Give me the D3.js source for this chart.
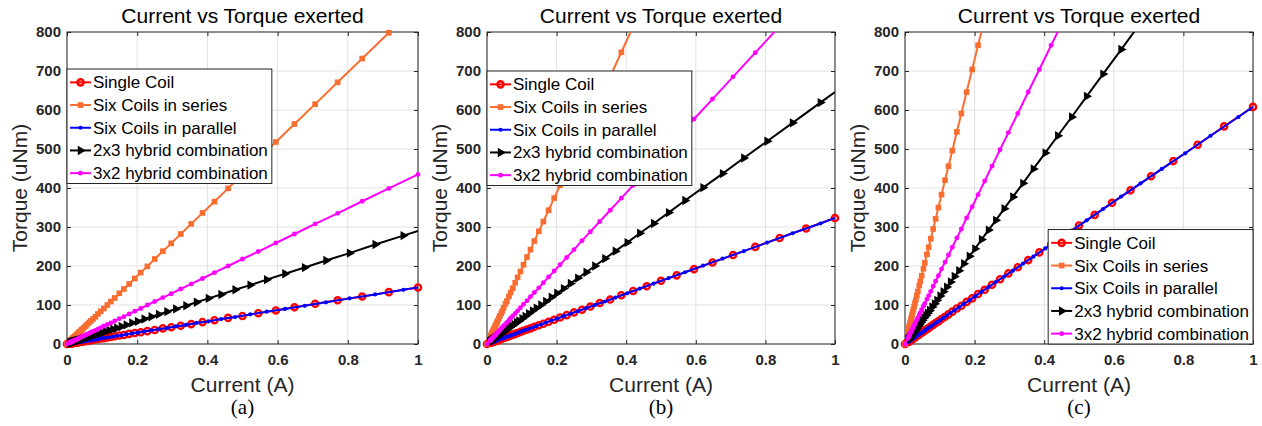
<!DOCTYPE html>
<html>
<head>
<meta charset="utf-8">
<script src="https://cdn.jsdelivr.net/npm/d3@7"></script>
<style>
  body { margin: 0; background: #fff; }
  svg { display: block; }
  text { font-family: "Liberation Sans", Arial, sans-serif; }
  .tick text { font-weight: bold; font-size: 15px; fill: #262626; font-family: "Liberation Sans", Arial, sans-serif; }
  .axis-title { font-size: 21px; fill: #262626; }
  .chart-title { font-size: 21px; fill: #000; }
  .caption { font-family: "Liberation Serif", "Times New Roman", serif; font-size: 21px; fill: #000; }
  .legend-text { font-size: 17px; fill: #000; }
</style>
</head>
<body>
<svg id="chart" width="1262" height="426"></svg>
<script>
// sample currents (A) - markers are log spaced, denser toward 0
const currentMain = [0, 0.0078, 0.0085, 0.0093, 0.0101, 0.0110, 0.0120, 0.0131, 0.0143, 0.0156, 0.0171,
  0.0186, 0.0203, 0.0221, 0.0241, 0.0263, 0.0287,
  0.031, 0.034, 0.037, 0.041, 0.044, 0.048, 0.053, 0.057, 0.063, 0.068,
  0.074, 0.081, 0.088, 0.096, 0.105, 0.115, 0.125, 0.136, 0.149, 0.162,
  0.177, 0.193, 0.210, 0.229, 0.250, 0.273, 0.297, 0.324, 0.354, 0.386,
  0.420, 0.459, 0.500, 0.545, 0.595, 0.648, 0.707, 0.771, 0.841, 0.917, 1];
const currentOdd = [0, 0.0082, 0.0089, 0.0097, 0.0106, 0.0115, 0.0126, 0.0137, 0.0150, 0.0163, 0.0178,
  0.0194, 0.0212, 0.0231, 0.0252, 0.0274, 0.0299,
  0.033, 0.036, 0.039, 0.042, 0.046, 0.050, 0.055, 0.060, 0.065, 0.071,
  0.078, 0.085, 0.092, 0.101, 0.110, 0.120, 0.131, 0.142, 0.155, 0.169,
  0.185, 0.201, 0.220, 0.240, 0.261, 0.285, 0.310, 0.339, 0.369, 0.403,
  0.439, 0.479, 0.522, 0.569, 0.621, 0.677, 0.738, 0.805, 0.878, 0.958, 1];

const seriesNames = ['Single Coil', 'Six Coils in series', 'Six Coils in parallel',
  '2x3 hybrid combination', '3x2 hybrid combination'];

const xTicks = [0, 0.2, 0.4, 0.6, 0.8, 1];
const yTicks = [0, 100, 200, 300, 400, 500, 600, 700, 800];

// torque (uNm), panel (a)
const singleA = [0, 1, 1, 1, 1, 2, 2, 2, 2, 2, 2, 3, 3, 3, 3, 4, 4,
  4, 5, 5, 6, 6, 7, 8, 8, 9, 10, 11, 12, 13, 14, 15, 17, 18, 20, 22, 23,
  26, 28, 30, 33, 36, 40, 43, 47, 51, 56, 61, 67, 72, 79, 86, 94, 103, 112, 122, 133, 145];
const seriesA = [0, 7, 7, 8, 9, 10, 10, 11, 12, 14, 15, 16, 18, 19, 21, 23, 25,
  27, 30, 32, 36, 38, 42, 46, 50, 55, 59, 64, 70, 77, 84, 91, 100, 109, 118, 130, 141,
  154, 168, 183, 199, 218, 238, 258, 282, 308, 336, 365, 399, 435, 474, 518, 564, 615, 671, 732, 798, 870];
const parallelA = [0, 1, 1, 1, 2, 2, 2, 2, 2, 2, 3, 3, 3, 3, 4, 4, 4,
  5, 5, 6, 6, 7, 7, 8, 9, 9, 10, 11, 12, 13, 15, 16, 17, 19, 21, 22, 25,
  27, 29, 32, 35, 38, 41, 45, 49, 54, 58, 64, 69, 76, 83, 90, 98, 107, 117, 127, 139, 145];
const hybrid23A = [0, 2, 3, 3, 3, 3, 4, 4, 4, 5, 5, 6, 6, 7, 7, 8, 9,
  10, 10, 11, 12, 13, 15, 16, 17, 19, 21, 23, 25, 27, 29, 32, 35, 38, 41, 45, 49,
  54, 58, 64, 70, 76, 83, 90, 98, 107, 117, 127, 139, 151, 165, 180, 196, 214, 233, 255, 278, 290];
const hybrid32A = [0, 3, 4, 4, 4, 5, 5, 6, 6, 7, 7, 8, 9, 10, 10, 11, 12,
  13, 15, 16, 18, 19, 21, 23, 25, 27, 30, 32, 35, 38, 42, 46, 50, 54, 59, 65, 70,
  77, 84, 91, 100, 109, 119, 129, 141, 154, 168, 183, 200, 218, 237, 259, 282, 308, 335, 366, 399, 435];

// panel (b)
const singleB = [0, 3, 3, 3, 3, 4, 4, 4, 5, 5, 6, 6, 7, 7, 8, 8, 9,
  10, 11, 12, 13, 14, 16, 17, 18, 20, 22, 24, 26, 28, 31, 34, 37, 40, 44, 48, 52,
  57, 62, 68, 74, 81, 88, 96, 105, 114, 125, 136, 148, 162, 176, 192, 209, 228, 249, 272, 296, 323];
const seriesB = [0, 15, 16, 18, 20, 21, 23, 25, 28, 30, 33, 36, 39, 43, 47, 51, 56,
  60, 66, 72, 79, 85, 93, 103, 110, 122, 132, 143, 157, 171, 186, 203, 223, 242, 264, 289, 314,
  343, 374, 407, 444, 485, 529, 576, 628, 686, 748, 814];
const parallelB = [0, 3, 3, 3, 3, 4, 4, 4, 5, 5, 6, 6, 7, 7, 8, 9, 10,
  11, 12, 13, 14, 15, 16, 18, 19, 21, 23, 25, 27, 30, 33, 36, 39, 42, 46, 50, 55,
  60, 65, 71, 78, 84, 92, 100, 109, 119, 130, 142, 155, 169, 184, 201, 219, 238, 260, 284, 309, 323];
const hybrid23B = [0, 5, 6, 6, 7, 7, 8, 9, 10, 11, 11, 13, 14, 15, 16, 18, 19,
  21, 23, 25, 27, 30, 32, 36, 39, 42, 46, 50, 55, 59, 65, 71, 78, 85, 92, 100, 109,
  120, 130, 142, 155, 169, 184, 200, 219, 238, 260, 284, 309, 337, 368, 401, 437, 477, 520, 567, 619, 646];
const hybrid32B = [0, 8, 8, 9, 10, 11, 12, 13, 14, 15, 17, 18, 20, 21, 23, 25, 28,
  30, 33, 36, 40, 43, 47, 51, 55, 61, 66, 72, 78, 85, 93, 102, 111, 121, 132, 144, 157,
  172, 187, 203, 222, 242, 265, 288, 314, 343, 374, 407, 445, 485, 528, 577, 628, 685, 747, 815];

// panel (c)
const singleC = [0, 5, 5, 6, 6, 7, 7, 8, 9, 9, 10, 11, 12, 13, 15, 16, 17,
  19, 21, 22, 25, 27, 29, 32, 35, 38, 41, 45, 49, 54, 58, 64, 70, 76, 83, 91, 98,
  108, 117, 128, 139, 152, 166, 181, 197, 215, 235, 255, 279, 304, 331, 362, 394, 430, 469, 511, 558, 608];
const seriesC = [0, 28, 31, 34, 37, 40, 44, 48, 52, 57, 62, 68, 74, 81, 88, 96, 105,
  113, 124, 135, 150, 161, 175, 193, 208, 230, 248, 270, 295, 321, 350, 383, 420, 456, 496, 544, 591,
  646, 704, 766, 835];
const parallelC = [0, 5, 5, 6, 6, 7, 8, 8, 9, 10, 11, 12, 13, 14, 15, 17, 18,
  20, 22, 24, 26, 28, 30, 33, 36, 40, 43, 47, 52, 56, 61, 67, 73, 80, 86, 94, 103,
  112, 122, 134, 146, 159, 173, 188, 206, 224, 245, 267, 291, 317, 346, 378, 412, 449, 489, 534, 582, 608];
const hybrid23C = [0, 10, 11, 12, 13, 14, 15, 17, 18, 20, 22, 24, 26, 28, 31, 33, 36,
  40, 44, 47, 51, 56, 61, 67, 73, 79, 86, 95, 103, 112, 123, 134, 146, 159, 173, 188, 206,
  225, 244, 268, 292, 317, 347, 377, 412, 449, 490, 534, 582, 635, 692, 755, 823];
const hybrid32C = [0, 14, 16, 17, 18, 20, 22, 24, 26, 28, 31, 34, 37, 40, 44, 48, 52,
  57, 62, 67, 75, 80, 88, 97, 104, 115, 124, 135, 148, 161, 175, 192, 210, 228, 248, 272, 295,
  323, 352, 383, 418, 456, 498, 542, 591, 646, 704, 766, 837];

// line styles, in plot order
const seriesStyles = [
  {color: '#ff0000', marker: 'o', current: currentMain},
  {color: '#f96d30', marker: 's', current: currentMain},
  {color: '#0000ff', marker: 'dot-small', current: currentOdd, skipEnds: true},
  {color: '#000000', marker: '>', current: currentOdd, skipEnds: true},
  {color: '#ff00ff', marker: 'dot', current: currentMain}
];

const panels = [
  {key: 'a', left: 67, right: 418, legend: {x: 67, y: 69},
   torque: [singleA, seriesA, parallelA, hybrid23A, hybrid32A]},
  {key: 'b', left: 487, right: 835, legend: {x: 487, y: 71},
   torque: [singleB, seriesB, parallelB, hybrid23B, hybrid32B]},
  {key: 'c', left: 905, right: 1253, legend: {right: 1253, bottom: 344},
   torque: [singleC, seriesC, parallelC, hybrid23C, hybrid32C]}
];

const plotTop = 32, plotBottom = 344;
const svg = d3.select('#chart');
const defs = svg.append('defs');

function markerPath(type) {
  if (type === 'o') return d3.symbol(d3.symbolCircle, 30)();
  if (type === 's') return d3.symbol(d3.symbolSquare, 32)();
  if (type === '>') return d3.symbol(d3.symbolTriangle, 38)();
  if (type === 'dot') return d3.symbol(d3.symbolCircle, 19)();
  return d3.symbol(d3.symbolCircle, 14)();
}

function styleMarker(sel, s) {
  if (s.marker === 'o') {
    sel.attr('fill', 'none').attr('stroke', s.color).attr('stroke-width', 2.4);
  } else {
    sel.attr('fill', s.color).attr('stroke', 'none');
  }
}

function markerTransform(s, cx, cy) {
  return `translate(${cx},${cy})` + (s.marker === '>' ? ' rotate(90)' : '');
}

panels.forEach(p => {
  const x = d3.scaleLinear().domain([0, 1]).range([p.left, p.right]);
  const y = d3.scaleLinear().domain([0, 800]).range([plotBottom, plotTop]);
  const w = p.right - p.left, h = plotBottom - plotTop;
  const g = svg.append('g');

  // grid
  g.append('g').selectAll('line').data(xTicks).join('line')
      .attr('x1', d => x(d)).attr('x2', d => x(d))
      .attr('y1', plotTop).attr('y2', plotBottom)
      .attr('stroke', '#e2e2e2').attr('stroke-width', 1);
  g.append('g').selectAll('line').data(yTicks).join('line')
      .attr('x1', p.left).attr('x2', p.right)
      .attr('y1', d => y(d)).attr('y2', d => y(d))
      .attr('stroke', '#e2e2e2').attr('stroke-width', 1);

  // axes
  g.append('g').attr('transform', `translate(0,${plotBottom})`)
      .call(d3.axisBottom(x).tickValues(xTicks).tickFormat(d3.format('~g'))
        .tickSizeInner(-4).tickSizeOuter(0).tickPadding(10));
  g.append('g').attr('transform', `translate(${p.left},0)`)
      .call(d3.axisLeft(y).tickValues(yTicks).tickSizeInner(-4).tickSizeOuter(0).tickPadding(6));
  g.append('g').attr('transform', `translate(0,${plotTop})`)
      .call(d3.axisTop(x).tickValues(xTicks).tickFormat('').tickSizeInner(-4).tickSizeOuter(0));
  g.append('g').attr('transform', `translate(${p.right},0)`)
      .call(d3.axisRight(y).tickValues(yTicks).tickFormat('').tickSizeInner(-4).tickSizeOuter(0));
  g.selectAll('.domain').remove();
  g.selectAll('.tick line').attr('stroke', '#262626');
  g.selectAll('.tick text').attr('fill', '#262626');

  g.append('rect')
      .attr('x', p.left).attr('y', plotTop).attr('width', w).attr('height', h)
      .attr('fill', 'none').attr('stroke', '#262626').attr('stroke-width', 1);

  // clip for lines
  const clipId = 'clip-' + p.key;
  defs.append('clipPath').attr('id', clipId).append('rect')
      .attr('x', p.left).attr('y', plotTop).attr('width', w).attr('height', h);

  const line = d3.line().x(d => x(d[0])).y(d => y(d[1]));

  seriesStyles.forEach((s, i) => {
    const torque = p.torque[i];
    const pts = torque.map((t, j) => [s.current[j], t]);
    g.append('path').datum(pts)
        .attr('d', line)
        .attr('fill', 'none')
        .attr('stroke', s.color)
        .attr('stroke-width', 2)
        .attr('clip-path', `url(#${clipId})`);
    const marks = pts.filter(d => d[1] <= 800 && !(s.skipEnds && (d[0] === 0 || d[0] === 1)));
    g.append('g').selectAll('path').data(marks).join('path')
        .attr('d', markerPath(s.marker))
        .attr('transform', d => markerTransform(s, x(d[0]), y(d[1])))
        .call(sel => styleMarker(sel, s));
  });

  // titles
  const cx = (p.left + p.right) / 2;
  g.append('text').attr('class', 'chart-title')
      .attr('x', cx).attr('y', 23).attr('text-anchor', 'middle')
      .text('Current vs Torque exerted');
  g.append('text').attr('class', 'axis-title')
      .attr('x', cx).attr('y', 392).attr('text-anchor', 'middle')
      .text('Current (A)');
  g.append('text').attr('class', 'axis-title')
      .attr('transform', `translate(${p.left - 40},${(plotTop + plotBottom) / 2}) rotate(-90)`)
      .attr('text-anchor', 'middle')
      .text('Torque (uNm)');
  g.append('text').attr('class', 'caption')
      .attr('x', cx).attr('y', 414).attr('text-anchor', 'middle')
      .text(`(${p.key})`);

  // legend
  const rowH = 22.7;
  const lg = g.append('g');
  const box = lg.append('rect').attr('fill', '#fff').attr('stroke', '#262626').attr('stroke-width', 1);
  const rows = lg.selectAll('g.row').data(seriesNames).join('g').attr('class', 'row')
      .attr('transform', (d, i) => `translate(0,${rowH / 2 + 2 + i * rowH})`);
  rows.append('line')
      .attr('x1', 3).attr('x2', 24).attr('y1', 0).attr('y2', 0)
      .attr('stroke', (d, i) => seriesStyles[i].color).attr('stroke-width', 2);
  rows.each(function(d, i) {
    const s = seriesStyles[i];
    d3.select(this).append('path')
        .attr('d', markerPath(s.marker))
        .attr('transform', markerTransform(s, 13.5, 0))
        .call(sel => styleMarker(sel, s));
  });
  rows.append('text').attr('class', 'legend-text')
      .attr('x', 26).attr('y', 6).text(d => d);
  const textW = d3.max(rows.selectAll('text').nodes(), n => n.getComputedTextLength());
  const bw = 26 + textW + 4, bh = 5 * rowH + 1;
  box.attr('x', 0).attr('y', 0).attr('width', bw).attr('height', bh);
  const lx = p.legend.x !== undefined ? p.legend.x : p.legend.right - bw;
  const ly = p.legend.y !== undefined ? p.legend.y : p.legend.bottom - bh;
  lg.attr('transform', `translate(${lx},${ly})`);
});
</script>
</body>
</html>
